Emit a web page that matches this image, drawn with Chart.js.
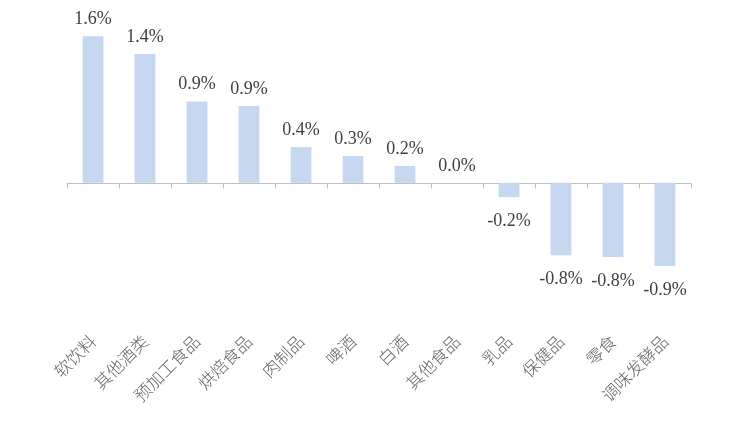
<!DOCTYPE html>
<html>
<head>
<meta charset="utf-8">
<script src="https://cdn.jsdelivr.net/npm/chart.js@4"></script>
<style>
  html,body{margin:0;padding:0;background:#fff;}
  #wrap{width:734px;height:446px;}
</style>
</head>
<body>
<div id="wrap"><canvas id="c" width="734" height="446"></canvas></div>
<script>
const categories = ["软饮料","其他酒类","预加工食品","烘焙食品","肉制品","啤酒","白酒","其他食品","乳品","保健品","零食","调味发酵品"];
const values = [1.64, 1.44, 0.91, 0.86, 0.40, 0.30, 0.19, 0.0, -0.16, -0.81, -0.83, -0.93];
const yMin = -1.5, yMax = 2.0;

const barColor = "#C6D8F0";
const labelColor = "#404040";
const axisColor = "#BFBFBF";

const zeroAxisPlugin = {
  id: "zeroAxis",
  beforeDatasetsDraw(chart) {
    const {ctx, scales:{x, y}, chartArea} = chart;
    const y0 = Math.round(y.getPixelForValue(0)) + 0.5;
    ctx.save();
    ctx.strokeStyle = axisColor;
    ctx.lineWidth = 1;
    ctx.beginPath();
    ctx.moveTo(chartArea.left, y0);
    ctx.lineTo(chartArea.right, y0);
    const n = categories.length;
    const step = (chartArea.right - chartArea.left) / n;
    for (let i = 0; i <= n; i++) {
      const xp = Math.round(i === n ? chartArea.right : x.getPixelForValue(i) - step / 2) + 0.5;
      ctx.moveTo(xp, y0);
      ctx.lineTo(xp, y0 + 5);
    }
    ctx.stroke();
    ctx.restore();
  }
};

const valueLabelPlugin = {
  id: "valueLabels",
  afterDatasetsDraw(chart) {
    const {ctx} = chart;
    const meta = chart.getDatasetMeta(0);
    ctx.save();
    ctx.font = "18px 'Liberation Serif', 'Times New Roman', serif";
    ctx.fillStyle = labelColor;
    ctx.textAlign = "center";
    ctx.textBaseline = "middle";
    meta.data.forEach((bar, i) => {
      const v = values[i];
      const txt = v.toFixed(1) + "%";
      if (v >= 0) {
        ctx.fillText(txt, bar.x, bar.y - 17);
      } else {
        ctx.fillText(txt, bar.x, bar.y + 24);
      }
    });
    ctx.restore();
  }
};

new Chart(document.getElementById("c"), {
  type: "bar",
  data: {
    labels: categories,
    datasets: [{
      data: values,
      backgroundColor: barColor,
      borderWidth: 0,
      categoryPercentage: 1.0,
      barPercentage: 0.4
    }]
  },
  options: {
    responsive: false,
    animation: false,
    devicePixelRatio: 1,
    layout: { padding: { left: 67, right: 43, top: 4, bottom: 0 } },
    plugins: { legend: { display: false }, tooltip: { enabled: false } },
    scales: {
      x: {
        grid: { display: false, drawTicks: false },
        border: { display: false },
        ticks: {
          minRotation: 45, maxRotation: 45,
          color: "#666666",
          padding: 14,
          font: { family: "'Noto Sans CJK SC'", size: 17, weight: 300 }
        },
        afterFit(scale) { scale.height = 129; }
      },
      y: {
        display: false,
        min: yMin, max: yMax
      }
    }
  },
  plugins: [zeroAxisPlugin, valueLabelPlugin]
});
</script>
</body>
</html>
